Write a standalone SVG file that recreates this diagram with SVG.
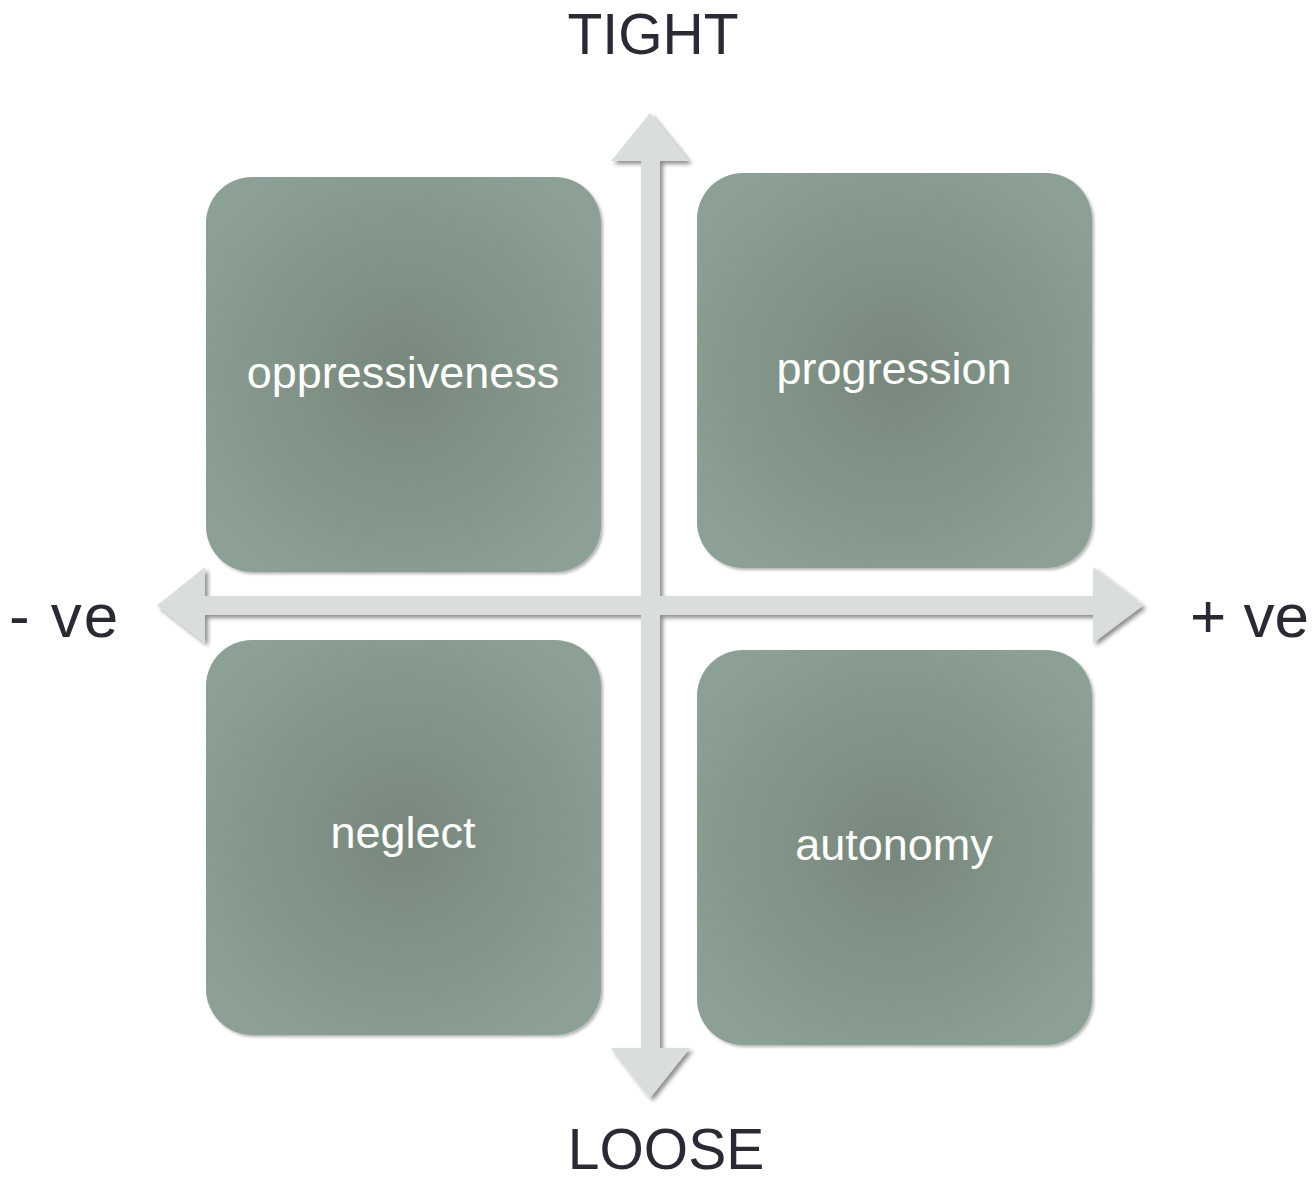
<svg xmlns="http://www.w3.org/2000/svg" width="1314" height="1177" viewBox="0 0 1314 1177">
<defs>
<radialGradient id="g" cx="50%" cy="50%" r="60%">
<stop offset="0" stop-color="#77877b"/>
<stop offset="1" stop-color="#8da095"/>
</radialGradient>
<filter id="sh" x="-10%" y="-10%" width="130%" height="130%">
<feGaussianBlur in="SourceAlpha" stdDeviation="2"/>
<feOffset dx="3" dy="3" result="b"/>
<feComponentTransfer><feFuncA type="linear" slope="0.45"/></feComponentTransfer>
<feMerge><feMergeNode/><feMergeNode in="SourceGraphic"/></feMerge>
</filter>
<filter id="bs" x="-5%" y="-5%" width="115%" height="115%">
<feGaussianBlur in="SourceAlpha" stdDeviation="1.5"/>
<feOffset dx="2" dy="2"/>
<feComponentTransfer><feFuncA type="linear" slope="0.3"/></feComponentTransfer>
<feMerge><feMergeNode/><feMergeNode in="SourceGraphic"/></feMerge>
</filter>
</defs>
<style>
.box{fill:url(#g);filter:url(#bs)}
.lbl{font-family:"Liberation Sans",Arial,sans-serif;font-size:45px;fill:#ffffff;text-anchor:middle}
.ax{font-family:"Liberation Sans",Arial,sans-serif;font-size:57px;fill:#2a2a35}
.pm{font-family:"Liberation Sans",Arial,sans-serif;font-size:62px;fill:#2a2a35}
.arr{fill:#d9dedc;filter:url(#sh)}
</style>
<g id="node-oppressiveness"><rect class="box" x="206" y="177" width="395" height="395" rx="46"/><text class="lbl" x="403" y="388">oppressiveness</text></g>
<g id="node-progression"><rect class="box" x="697" y="173" width="395" height="395" rx="46"/><text class="lbl" x="894" y="384">progression</text></g>
<g id="node-neglect"><rect class="box" x="206" y="640" width="395" height="395" rx="46"/><text class="lbl" x="403" y="848">neglect</text></g>
<g id="node-autonomy"><rect class="box" x="697" y="650" width="395" height="395" rx="46"/><text class="lbl" x="894" y="860">autonomy</text></g>
<g id="connectors">
<path class="arr" d="M650 113 L689 161 L660 161 L660 596 L1093 596 L1093 567 L1143 605.5 L1093 643 L1093 615 L660 615 L660 1048 L690 1048 L650 1098 L611 1048 L641 1048 L641 615 L205 615 L205 643 L157 605.5 L205 567 L205 596 L641 596 L641 161 L611 161 Z"/>
</g>
<g id="axis-labels">
<text class="ax" x="653" y="54" text-anchor="middle">TIGHT</text>
<text class="ax" x="666" y="1169" text-anchor="middle" font-size="56">LOOSE</text>
<text class="pm" x="9" y="637" letter-spacing="2">- ve</text>
<text class="pm" x="1309" y="637" text-anchor="end">+ ve</text>
</g>
</svg>
